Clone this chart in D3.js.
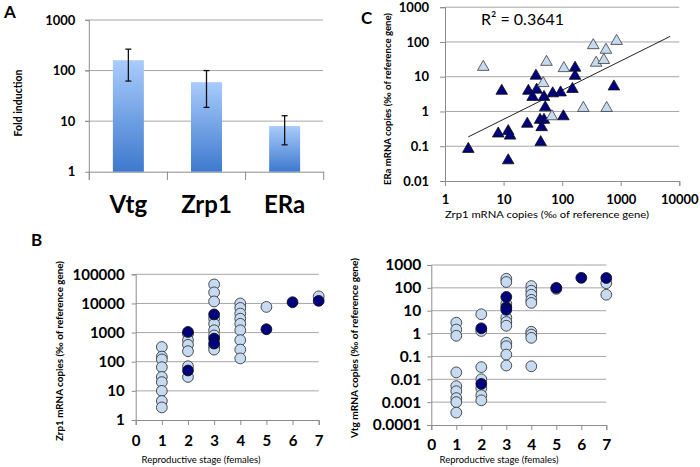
<!DOCTYPE html>
<html><head><meta charset="utf-8">
<script src="https://cdn.jsdelivr.net/npm/d3@7"></script>
<style>
body{margin:0;background:#fff;}
svg text{font-family:Lato,"Open Sans",sans-serif;fill:#000;}
</style></head><body>
<svg id="c" width="700" height="467"></svg>
<script>
// ---------- Panel A data ----------
const geneNames = ["Vtg", "Zrp1", "ERa"];
const foldInduction = [160, 59, 8];
const foldErrHigh = [265, 100, 12.8];
const foldErrLow = [62, 18.7, 3.4];
const foldTicks = [1, 10, 100, 1000];

// ---------- Panel C data ----------
const cLightZrp1 = [4.5, 54, 107, 340, 850, 560, 380, 515, 47.5, 230, 575, 67];
const cLightERa = [19, 26.5, 17.5, 80, 106, 59, 25, 30, 6.5, 1.25, 1.25, 0.72];
const cDarkZrp1 = [2.5, 12, 8.1, 12, 12.9, 9.3, 25.4, 43, 35.7, 26.5, 36.7, 31.3, 49, 69, 94, 51.5, 42, 49, 44.7, 105, 150, 166, 166, 765];
const cDarkERa = [0.083, 0.039, 0.23, 0.27, 0.2, 3.9, 0.44, 0.13, 10.6, 3.9, 4.2, 2.6, 2.6, 3.3, 3.5, 1.3, 0.57, 0.57, 0.35, 0.72, 4.4, 18, 10.5, 5.2];
const trendZrp1 = [2.5, 7000];
const trendERa = [0.186, 145];
const cXTicks = [1, 10, 100, 1000, 10000];
const cYTicks = [0.01, 0.1, 1, 10, 100, 1000];
const rSquaredLabel = "R\u00B2 = 0.3641";

// ---------- Panel B (left) data: Zrp1 ----------
const stageTicks = [0, 1, 2, 3, 4, 5, 6, 7];
const zrpLightStage = [1,1,1,1,1,1,1,1,1, 2,2,2,2,2,2, 3,3,3,3,3,3,3,3,3, 4,4,4,4,4,4,4,4,4, 5, 7];
const zrpLightValue = [320,150,120,65,30,20,10,4.5,2.7, 900,550,380,230,70,30, 45000,24000,11700,3000,2000,1200,800,330,260, 10000,7000,4500,3000,2000,1200,550,260,130, 7600, 17500];
const zrpDarkStage = [2, 2, 3, 3, 3, 5, 6, 7];
const zrpDarkValue = [1050, 50, 4200, 620, 420, 1300, 11000, 12300];
const zrpTicks = [1, 10, 100, 1000, 10000, 100000];

// ---------- Panel B (right) data: Vtg ----------
const vtgLightStage = [1,1,1,1,1,1,1,1,1, 2,2,2,2,2,2,2, 3,3,3,3,3,3,3,3,3,3, 4,4,4,4,4,4,4,4,4, 5, 7,7];
const vtgLightValue = [3,1.5,0.8,0.02,0.005,0.003,0.0015,0.001,0.00035, 7,1.3,0.034,0.01,0.004,0.002,0.0012, 250,180,20,5,3.2,2.2,0.4,0.28,0.12,0.04, 120,75,50,30,22,1.2,0.9,0.65,0.037, 90, 160,50];
const vtgDarkStage = [2, 2, 3, 3, 3, 5, 6, 7];
const vtgDarkValue = [1.7, 0.0063, 40, 14, 11, 100, 275, 270];
const vtgTicks = [0.0001, 0.001, 0.01, 0.1, 1, 10, 100, 1000];

const LIGHT = "#c6daf1", DARK = "#00007e", GRID = "#a6a6a6", AXIS = "#8c8c8c", EDGE = "#3a3a3a";
const svg = d3.select("#c");
const fmt = d => String(d);

function styleAxis(g, fs) {
  g.select(".domain").attr("stroke", AXIS);
  g.selectAll(".tick line").attr("stroke", AXIS);
  g.selectAll(".tick text").attr("font-weight", "bold").attr("font-size", fs).attr("fill", "#000");
}
function gridLines(g, ticks, y, x1, x2) {
  g.append("g").selectAll("line").data(ticks).join("line")
    .attr("x1", x1).attr("x2", x2).attr("y1", d => y(d)).attr("y2", d => y(d))
    .attr("stroke", GRID).attr("stroke-width", 1);
}

// ================= Panel A =================
{
  const defs = svg.append("defs");
  const grad = defs.append("linearGradient").attr("id", "barGrad").attr("x1", 0).attr("x2", 0).attr("y1", 0).attr("y2", 1);
  grad.append("stop").attr("offset", "0%").attr("stop-color", "#a9ccfc");
  grad.append("stop").attr("offset", "100%").attr("stop-color", "#3d79cd");

  const y = d3.scaleLog().domain([1, 1000]).range([171.7, 20]);
  const x = d3.scaleBand().domain(geneNames).range([89.3, 323.7]);
  const g = svg.append("g");
  gridLines(g, foldTicks.slice(1), y, 85, 323);

  const ya = g.append("g").attr("transform", "translate(89.3,0)")
    .call(d3.axisLeft(y).tickValues(foldTicks).tickFormat(fmt).tickSize(4).tickPadding(10));
  styleAxis(ya, "13px");
  ya.select(".domain").attr("d", "M0,20V180");

  const xa = g.append("g").attr("transform", "translate(0,171.7)")
    .call(d3.axisBottom(x).tickSize(0));
  styleAxis(xa, "24px");
  xa.selectAll(".tick text").attr("y", 41.5).attr("dy", 0);
  // category separators
  g.append("g").selectAll("line").data(geneNames.concat(["_end"])).join("line")
    .attr("x1", (d, i) => 89.3 + i * x.step()).attr("x2", (d, i) => 89.3 + i * x.step())
    .attr("y1", 171.7).attr("y2", 180).attr("stroke", AXIS);

  const bw = 31;
  g.append("g").selectAll("rect").data(geneNames).join("rect")
    .attr("x", d => x(d) + x.bandwidth() / 2 - bw / 2).attr("width", bw)
    .attr("y", (d, i) => y(foldInduction[i])).attr("height", (d, i) => y(1) - y(foldInduction[i]))
    .attr("fill", "url(#barGrad)");
  const eb = g.append("g").attr("stroke", "#111").attr("stroke-width", 1.3);
  geneNames.forEach((d, i) => {
    const cx = x(d) + x.bandwidth() / 2;
    eb.append("line").attr("x1", cx).attr("x2", cx).attr("y1", y(foldErrHigh[i])).attr("y2", y(foldErrLow[i]));
    eb.append("line").attr("x1", cx - 3).attr("x2", cx + 3).attr("y1", y(foldErrHigh[i])).attr("y2", y(foldErrHigh[i]));
    eb.append("line").attr("x1", cx - 3).attr("x2", cx + 3).attr("y1", y(foldErrLow[i])).attr("y2", y(foldErrLow[i]));
  });
  g.append("text").attr("transform", "translate(22,103) rotate(-90)").attr("text-anchor", "middle")
    .attr("font-size", "10.5px").attr("font-weight", "bold").text("Fold induction");
  g.append("text").attr("x", 4).attr("y", 18).attr("font-size", "17px").attr("font-weight", "bold").text("A");
}

// ================= Panel C =================
{
  const x = d3.scaleLog().domain([1, 10000]).range([445, 679.3]);
  const y = d3.scaleLog().domain([0.01, 1000]).range([181, 7.2]);
  const g = svg.append("g");
  gridLines(g, cYTicks.slice(1), y, 445, 679.3);
  const ya = g.append("g").attr("transform", "translate(445,0)")
    .call(d3.axisLeft(y).tickValues(cYTicks).tickFormat(fmt).tickSize(5).tickPadding(11));
  styleAxis(ya, "13px");
  const xa = g.append("g").attr("transform", "translate(0,181)")
    .call(d3.axisBottom(x).tickValues(cXTicks).tickFormat(fmt).tickSize(5));
  styleAxis(xa, "13px");
  xa.selectAll(".tick text").attr("y", 23).attr("dy", 0);

  g.append("line").attr("x1", x(trendZrp1[0])).attr("y1", y(trendERa[0]))
    .attr("x2", x(trendZrp1[1])).attr("y2", y(trendERa[1])).attr("stroke", "#222").attr("stroke-width", 1);

  const tri = d3.symbol().type(d3.symbolTriangle).size(58);
  g.append("g").selectAll("path").data(cDarkZrp1).join("path")
    .attr("d", tri).attr("transform", (d, i) => `translate(${x(d)},${y(cDarkERa[i])})`)
    .attr("fill", DARK).attr("stroke", "#111").attr("stroke-width", 0.8);
  g.append("g").selectAll("path").data(cLightZrp1).join("path")
    .attr("d", tri).attr("transform", (d, i) => `translate(${x(d)},${y(cLightERa[i])})`)
    .attr("fill", LIGHT).attr("stroke", EDGE).attr("stroke-width", 0.8);

  g.append("text").attr("x", 481).attr("y", 25).attr("font-size", "16px").text(rSquaredLabel);
  g.append("text").attr("x", 361).attr("y", 24).attr("font-size", "17px").attr("font-weight", "bold").text("C");
  g.append("text").attr("x", 547).attr("y", 218).attr("text-anchor", "middle").attr("font-size", "10px")
    .attr("textLength", 204).attr("lengthAdjust", "spacingAndGlyphs").text("Zrp1 mRNA copies (\u2030 of reference gene)");
  g.append("text").attr("transform", "translate(391,99) rotate(-90)").attr("text-anchor", "middle")
    .attr("font-size", "10px").attr("font-weight", "bold")
    .attr("textLength", 172).attr("lengthAdjust", "spacingAndGlyphs").text("ERa mRNA copies (\u2030 of reference gene)");
}

// ================= Panel B helper =================
function stagePanel(o) {
  const x = d3.scaleLinear().domain([0, 7]).range([o.x0, o.x1]);
  const y = d3.scaleLog().domain(o.yDomain).range([o.yBottom, o.yTop]);
  const g = svg.append("g");
  gridLines(g, o.ticks.slice(1), y, o.x0, o.x1);
  const ya = g.append("g").attr("transform", `translate(${o.x0},0)`)
    .call(d3.axisLeft(y).tickValues(o.ticks).tickFormat(fmt).tickSize(4).tickPadding(o.yPad));
  styleAxis(ya, o.fs);
  const xa = g.append("g").attr("transform", `translate(0,${o.yBottom})`)
    .call(d3.axisBottom(x).tickValues(stageTicks).tickFormat(fmt).tickSize(5));
  styleAxis(xa, o.fs);
  xa.selectAll(".tick text").attr("y", o.xLabY - o.yBottom).attr("dy", 0);

  g.append("g").selectAll("circle").data(o.lightStage).join("circle")
    .attr("cx", d => x(d)).attr("cy", (d, i) => y(o.lightValue[i])).attr("r", 5.4)
    .attr("fill", LIGHT).attr("stroke", EDGE).attr("stroke-width", 0.9);
  g.append("g").selectAll("circle").data(o.darkStage).join("circle")
    .attr("cx", d => x(d)).attr("cy", (d, i) => y(o.darkValue[i])).attr("r", 5.4)
    .attr("fill", DARK).attr("stroke", "#111").attr("stroke-width", 0.9);

  g.append("text").attr("x", o.xTitleX).attr("y", 463).attr("text-anchor", "middle").attr("font-size", "10px")
    .attr("textLength", 119).attr("lengthAdjust", "spacingAndGlyphs").text("Reproductive stage (females)");
  g.append("text").attr("transform", `translate(${o.yTitleX},${o.yTitleY}) rotate(-90)`).attr("text-anchor", "middle")
    .attr("font-size", "10px").attr("font-weight", "bold")
    .attr("textLength", 180).attr("lengthAdjust", "spacingAndGlyphs").text(o.yTitle);
}

stagePanel({
  x0: 135.7, x1: 318.7, yBottom: 420, yTop: 274.3, yDomain: [1, 100000], ticks: zrpTicks,
  fs: "15px", yPad: 7, xLabY: 445.5,
  lightStage: zrpLightStage, lightValue: zrpLightValue, darkStage: zrpDarkStage, darkValue: zrpDarkValue,
  xTitleX: 201, yTitleX: 63, yTitleY: 351, yTitle: "Zrp1 mRNA copies (\u2030 of reference gene)"
});
stagePanel({
  x0: 431.3, x1: 606.3, yBottom: 425, yTop: 265, yDomain: [0.0001, 1000], ticks: vtgTicks,
  fs: "15.5px", yPad: 6, xLabY: 450,
  lightStage: vtgLightStage, lightValue: vtgLightValue, darkStage: vtgDarkStage, darkValue: vtgDarkValue,
  xTitleX: 499, yTitleX: 358, yTitleY: 348, yTitle: "Vtg mRNA copies (\u2030 of reference gene)"
});
svg.append("text").attr("x", 31).attr("y", 246).attr("font-size", "17px").attr("font-weight", "bold").text("B");
</script>
</body></html>
